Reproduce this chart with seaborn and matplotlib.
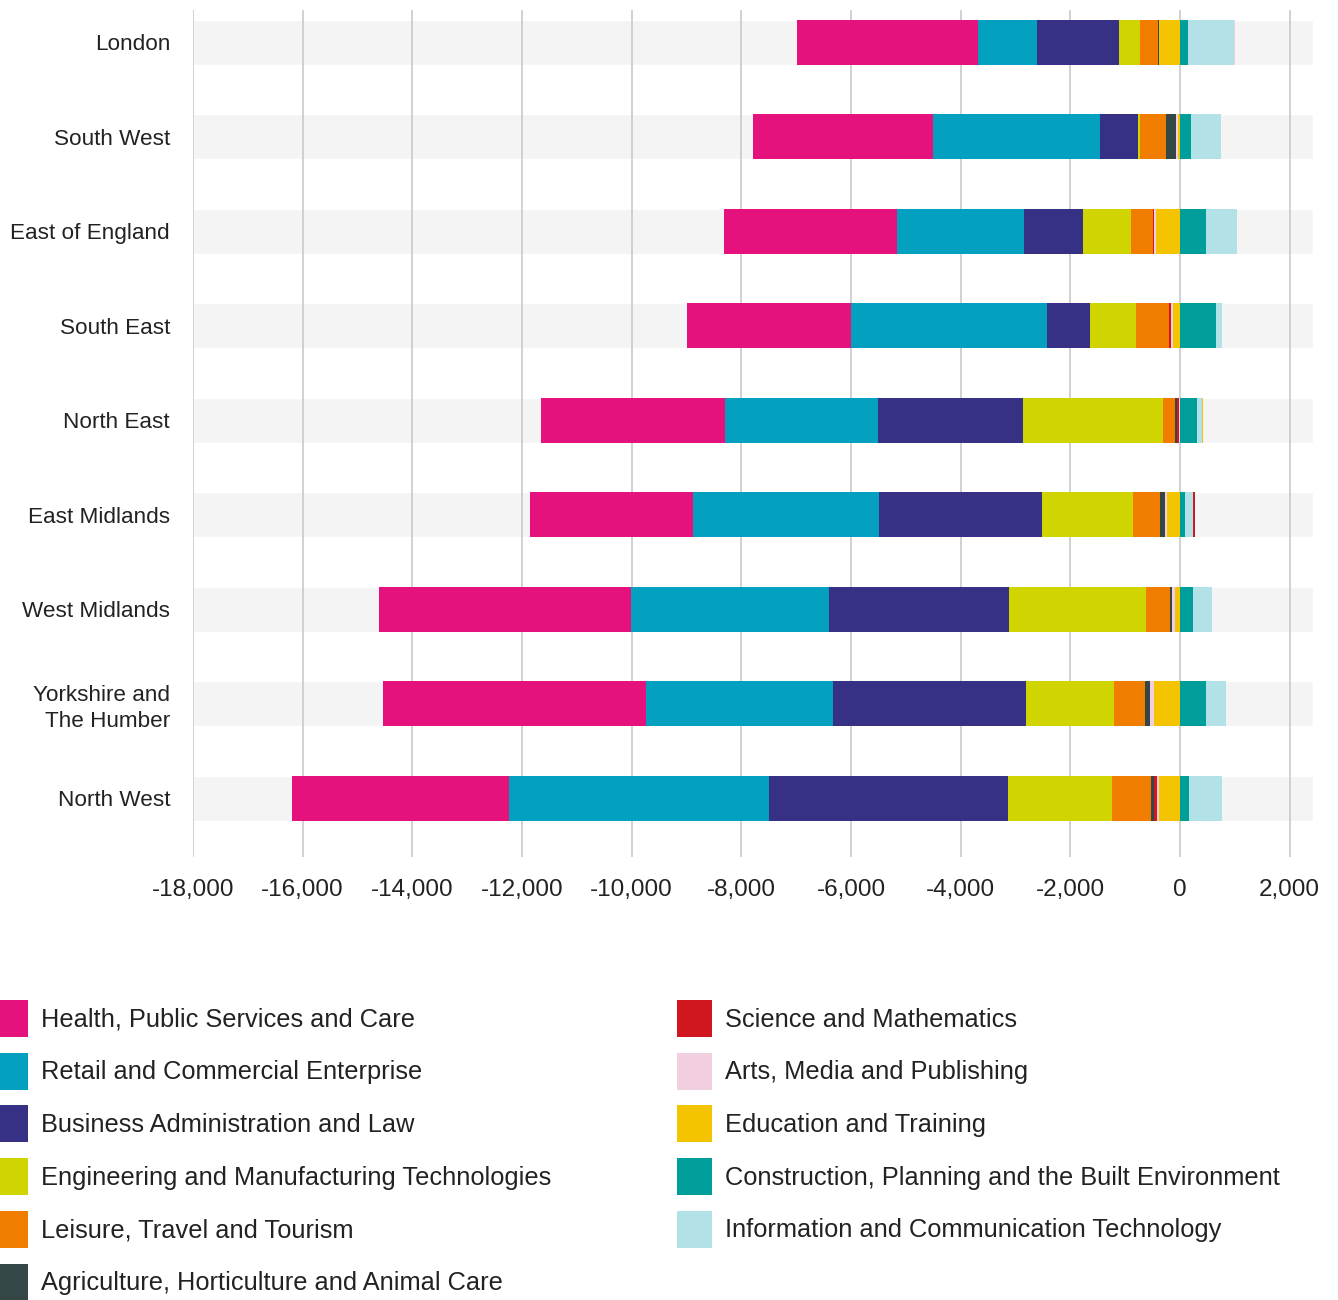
import numpy as np
import pandas as pd
import seaborn as sns
import matplotlib.pyplot as plt
from matplotlib.patches import Patch

regions = ["London", "South West", "East of England", "South East", "North East",
           "East Midlands", "West Midlands", "Yorkshire and\nThe Humber", "North West"]

categories = ["Health, Public Services and Care", "Retail and Commercial Enterprise",
              "Business Administration and Law", "Engineering and Manufacturing Technologies",
              "Leisure, Travel and Tourism", "Agriculture, Horticulture and Animal Care",
              "Science and Mathematics", "Arts, Media and Publishing", "Education and Training",
              "Construction, Planning and the Built Environment",
              "Information and Communication Technology"]

colors = ["#e5117d", "#03a0bf", "#373185", "#d0d400", "#f07d00", "#354646",
          "#d0161e", "#f2cfe0", "#f5c400", "#009e9b", "#b3e1e8"]

# change per region (same order as regions)
health = [-3285, -3285, -3139, -2975, -3358, -2975, -4598, -4798, -3960]
retail = [-1076, -3044, -2315, -3573, -2789, -3391, -3610, -3409, -4740]
business = [-1495, -693, -1076, -784, -2644, -2972, -3282, -3519, -4357]
engineering = [-383, -36, -875, -839, -2552, -1659, -2497, -1604, -1896]
leisure = [-334, -474, -407, -602, -219, -492, -438, -565, -711]
agriculture = [-22, -177, 0, 0, -27, -109, -31, -91, -55]
science = [0, 0, -18, -36, -46, 36, 0, 0, -55]
arts = [25, -42, -31, -36, -15, -24, -60, -73, -36]
education = [-383, -36, -447, -137, 36, -241, -91, -474, -383]
construction = [146, 200, 465, 665, 301, 82, 237, 474, 164]
ict = [833, 547, 565, 109, 91, 146, 346, 365, 602]

df = pd.DataFrame({
    categories[0]: health, categories[1]: retail, categories[2]: business,
    categories[3]: engineering, categories[4]: leisure, categories[5]: agriculture,
    categories[6]: science, categories[7]: arts, categories[8]: education,
    categories[9]: construction, categories[10]: ict,
}, index=regions)

# stacking order outward from zero
stack_order = categories[9:] + categories[8::-1]
palette = dict(zip(categories, colors))

sns.set_style("white")
plt.rcParams['font.family'] = ['Liberation Sans', 'DejaVu Sans']

fig = plt.figure(figsize=(13.38, 13.0), dpi=100)
ax = fig.add_axes([193 / 1338, 1 - 857 / 1300, 1120 / 1338, 847 / 1300])

xmin, xmax = -18000, 2425
y = np.arange(len(regions))
bar_h = 0.476

ax.barh(y, xmax - xmin, left=xmin, height=bar_h, color="#f4f4f4", zorder=0)

pos_left = np.zeros(len(regions))
neg_left = np.zeros(len(regions))
for cat in stack_order:
    v = df[cat].to_numpy(dtype=float)
    left = np.where(v >= 0, pos_left, neg_left + v)
    ax.barh(y, np.abs(v), left=left, height=bar_h, color=palette[cat],
            linewidth=0, zorder=3)
    pos_left += np.clip(v, 0, None)
    neg_left += np.clip(v, None, 0)

ax.set_xlim(xmin, xmax)
ax.set_ylim(8.62, -0.34)
ax.set_xticks(np.arange(-18000, 2001, 2000))
ax.set_xticklabels([f"{t:,}" for t in range(-18000, 2001, 2000)])
ax.set_yticks(y)
ax.set_yticklabels(regions, ha="right", linespacing=1.3)
ax.tick_params(axis="x", length=0, pad=16, labelsize=17.5, colors="#222222")
ax.tick_params(axis="y", length=0, pad=16.5, labelsize=16.2, colors="#222222")
ax.xaxis.grid(True, color="#c9c9c9", linewidth=1.2, zorder=1)
ax.yaxis.grid(False)
ax.set_axisbelow(True)
for s in ax.spines.values():
    s.set_visible(False)

handles = [Patch(facecolor=c, edgecolor="none", label=l) for l, c in zip(categories, colors)]
leg_kw = dict(frameon=False, fontsize=18.3, handlelength=1.38, handleheight=1.86,
              handletextpad=0.5, labelspacing=0.62, borderaxespad=0, borderpad=0,
              labelcolor="#222222")
fig.legend(handles=handles[:6], loc="upper left", bbox_to_anchor=(-7 / 1338, 1 - 1000 / 1300), **leg_kw)
fig.legend(handles=handles[6:], loc="upper left", bbox_to_anchor=(677 / 1338, 1 - 1000 / 1300), **leg_kw)

fig.savefig("out.png", dpi=100)
